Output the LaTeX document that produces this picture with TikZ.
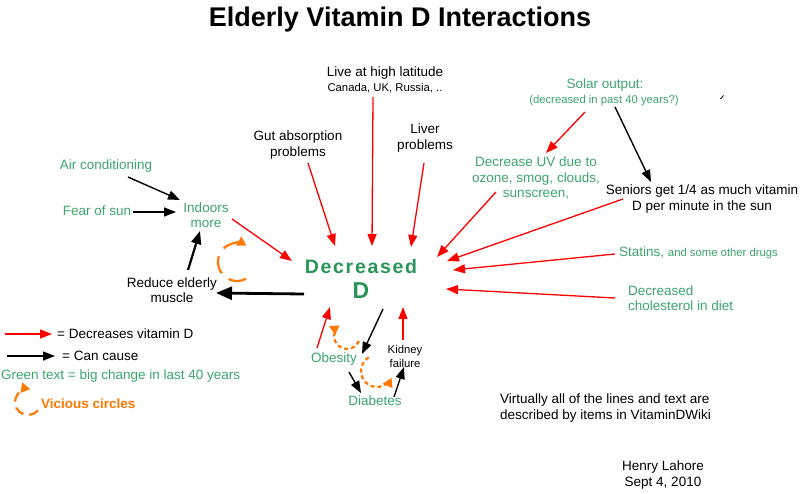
\documentclass[tikz,border=0pt]{standalone}
\usepackage{fontspec}
\setmainfont{Liberation Sans}
\usetikzlibrary{arrows.meta}
\definecolor{gtext}{RGB}{60,165,110}
\definecolor{dgreen}{RGB}{40,150,90}
\definecolor{vorange}{RGB}{255,120,0}
\begin{document}
\begin{tikzpicture}[x=1pt,y=-1pt,
  txt/.style={inner sep=0pt, font=\fontsize{13.5}{15.5}\selectfont, align=center},
  sm/.style={inner sep=0pt, font=\fontsize{11.3}{14}\selectfont, align=center},
  gtxt/.style={text=gtext},
  redarr/.style={draw=red, line width=1.3pt, -{Triangle[length=12pt,width=9pt]}},
  blkarr/.style={draw=black, line width=1.4pt, -{Triangle[length=12pt,width=9pt]}},
  thickarr/.style={draw=black, line width=2.8pt, -{Triangle[length=16pt,width=13pt]}},
  medarr/.style={draw=black, line width=2.2pt, -{Triangle[length=13pt,width=10pt]}},
  vic/.style={draw=vorange, line width=2.2pt, dash pattern=on 18pt off 9pt, -{Triangle[length=9pt,width=10pt]}},
  vicsmall/.style={draw=vorange, line width=2.2pt, dash pattern=on 4pt off 3pt, -{Triangle[length=9pt,width=10pt]}},
]
\useasboundingbox[fill=white] (0,0) rectangle (800,493);

% title
\node[inner sep=0pt, font=\bfseries\fontsize{27}{30}\selectfont] (title) at (400,20) {Elderly Vitamin D Interactions};

% central node
\node[inner sep=0pt, text=dgreen, align=center, font=\bfseries\fontsize{23}{25}\selectfont] (dec) at (361,279)
  {\fontsize{19.5}{22}\selectfont\addfontfeature{LetterSpace=8.7}Decreased\\D};

% causes
\node[txt] (live) at (385,73) {Live at high latitude};
\node[sm] (livesub) at (385,88) {Canada, UK, Russia, ..};
\node[txt] (gut) at (298,145) {Gut absorption\\problems};
\node[txt] (liver) at (425,138) {Liver\\problems};
\node[txt,gtxt] (air) at (106,166) {Air conditioning};
\node[txt,gtxt] (fear) at (97,211) {Fear of sun};
\node[txt,gtxt] (indoors) at (206,215) {Indoors\\more};
\node[txt] (reduce) at (172,290) {Reduce elderly\\muscle};
\node[txt,gtxt] (solar) at (605,85) {Solar output:};
\node[sm,gtxt] (solarsub) at (604,101) {(decreased in past 40 years?)};
\node[txt,gtxt] (uv) at (536,178) {Decrease UV due to\\ozone, smog, clouds,\\sunscreen,};
\node[txt] (seniors) at (702,199) {Seniors get 1/4 as much vitamin\\D per minute in the sun};
\node[txt,gtxt,anchor=west] (statins) at (619,253) {Statins, {\fontsize{11.3}{14}\selectfont and some other drugs}};
\node[txt,gtxt,anchor=west,align=left] (chol) at (628,298) {Decreased\\cholesterol in diet};
\node[txt,gtxt] (obesity) at (334,359) {Obesity};
\node[sm] (kidney) at (405,356) {Kidney\\failure};
\node[txt,gtxt] (diabetes) at (375,401) {Diabetes};

% notes
\node[txt,align=left,anchor=west] (note) at (500,408) {Virtually all of the lines and text are\\described by items in VitaminDWiki};
\node[txt] (author) at (663,475) {Henry Lahore\\Sept 4, 2010};

% legend
\coordinate (lr1) at (5,334); \coordinate (lr2) at (52,334);
\coordinate (lb1) at (7,356); \coordinate (lb2) at (55,356);
\draw[redarr] (lr1) -- (lr2);
\node[txt,anchor=west] (lredtxt) at (57,334) {= Decreases vitamin D};
\draw[blkarr] (lb1) -- (lb2);
\node[txt,anchor=west] (lblktxt) at (62,356) {= Can cause};
\node[txt,gtxt,anchor=west] (lgreen) at (1,376) {Green text = big change in last 40 years};
\node[txt,anchor=west,text=vorange,font=\bfseries\fontsize{13.5}{15.5}\selectfont] (lvic) at (41,404) {Vicious circles};
\draw[vic, dash pattern=on 10pt off 6pt] (28,402) ++(-40:13pt) arc[start angle=-40, end angle=-280, radius=13pt];

% red arrows into Decreased D
\draw[redarr] ([shift={(-12,24)}]live.center) -- ([shift={(11,-33)}]dec.center);
\draw[redarr] ([shift={(10,18)}]gut.center) -- ([shift={(-26,-33)}]dec.center);
\draw[redarr] ([shift={(-1,25)}]liver.center) -- ([shift={(50,-32)}]dec.center);
\draw[redarr] ([shift={(-40,14)}]uv.center) -- ([shift={(76,-22)}]dec.center);
\draw[redarr] ([shift={(-79,0)}]seniors.center) -- ([shift={(86,-18)}]dec.center);
\draw[redarr] ([shift={(-4,1)}]statins.west) -- ([shift={(92,-9)}]dec.center);
\draw[redarr] ([shift={(-13,0)}]chol.west) -- ([shift={(85,10)}]dec.center);
\draw[redarr] ([shift={(26,4)}]indoors.center) -- ([shift={(-69,-18)}]dec.center);
\draw[redarr] ([shift={(-17,-11)}]obesity.center) -- ([shift={(-31,28)}]dec.center);
\draw[redarr] ([shift={(-2,-16)}]kidney.center) -- ([shift={(42,28)}]dec.center);
\draw[redarr] ([shift={(-19,11)}]solarsub.center) -- ([shift={(10,-25)}]uv.center);

% black arrows
\draw[blkarr] ([shift={(11,6)}]solarsub.center) -- ([shift={(-51,-17)}]seniors.center);
\draw[blkarr] ([shift={(22,11)}]air.center) -- ([shift={(-26,-15)}]indoors.center);
\draw[blkarr] ([shift={(36,1)}]fear.center) -- ([shift={(-30,-3)}]indoors.center);
\draw[medarr] ([shift={(16,-20)}]reduce.center) -- ([shift={(-6,16)}]indoors.center);
\draw[thickarr] ([shift={(-57,15)}]dec.center) -- ([shift={(44,3)}]reduce.center);
\draw[blkarr] ([shift={(22,30)}]dec.center) -- ([shift={(28,-5)}]obesity.center);
\draw[blkarr] ([shift={(15,13)}]obesity.center) -- ([shift={(-14,-8)}]diabetes.center);
\draw[blkarr] ([shift={(19,-4)}]diabetes.center) -- ([shift={(-1,11)}]kidney.center);

% vicious circles
\draw[vic] (237,262) ++(-62:19pt) arc[start angle=-62, end angle=-300, radius=19pt];
\draw[vicsmall] (347,336) ++(-23:13pt) arc[start angle=-23, end angle=-235, radius=13pt];
\draw[vicsmall] (377,371) ++(121:16pt) arc[start angle=121, end angle=335, radius=16pt];

% stray mark
\draw[line width=0.8pt] (720.5,99) -- (723.5,95.5);
\end{tikzpicture}
\end{document}
